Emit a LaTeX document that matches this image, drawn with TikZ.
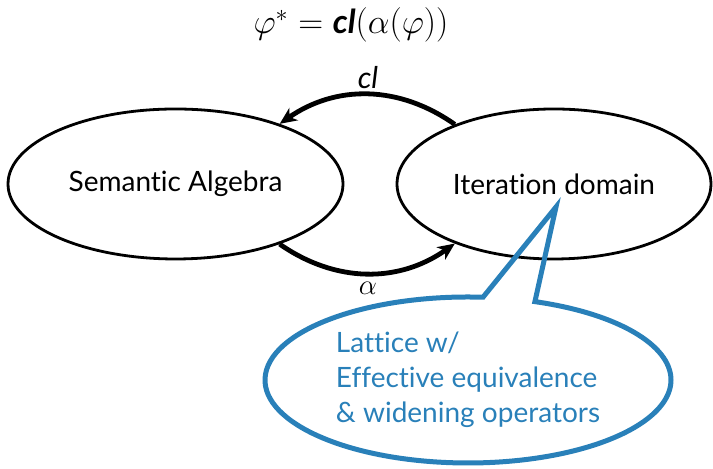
\documentclass[tikz,border=0pt]{standalone}
\usepackage{fontspec}
\setmainfont[Ligatures=NoCommon]{Lato}
\usepackage{tikz}
\usetikzlibrary{shapes,shapes.callouts,arrows.meta,positioning}
\usepackage{xcolor}
\definecolor{calloutblue}{RGB}{41,128,185}

\begin{document}
\begin{tikzpicture}[x=0.5pt, y=0.5pt,
    domainbox/.style={ellipse, draw, line width=1.4pt, inner sep=0pt, font=\fontsize{14}{17}\selectfont},
    mapping/.style={-{Stealth[length=8.5pt,width=7.5pt,inset=2.5pt]}, line width=2.4pt},
    note/.style={ellipse callout, draw=calloutblue, line width=2.5pt, text=calloutblue,
        align=left, inner sep=0pt, font=\fontsize{14}{17.5}\selectfont}]
                \useasboundingbox (0,0) rectangle (713,469);

                % Closure formula
                \node[font=\fontsize{16.5}{20}\selectfont] (formula) at (351,444)
                    {$\varphi^{*} = \textbf{\textit{cl}}(\alpha(\varphi))$};

                % The two domains
                \node[domainbox, minimum width=167.5pt, minimum height=75pt] (sa) at (175.5,285) {Semantic Algebra};
                \node[domainbox, minimum width=157pt, minimum height=75pt] (id) at (554,285) {Iteration domain};

                % Maps between them
                \draw[mapping] (id.149) to[bend right=35] (sa.30);
                \draw[mapping] (sa.-30) to[bend right=35] (id.211);
                \node[font=\fontsize{15}{18}\selectfont] (cl) at (368,391) {\textit{cl}};
                \node[font=\fontsize{15}{18}\selectfont] (alpha) at (368,181) {$\alpha$};

                % Remark on the iteration domain
                \node[note, minimum width=203pt, minimum height=83pt, callout absolute pointer={(556,262)}]
                    (remark) at (468,89)
                    {Lattice w/\\Effective equivalence\\\& widening operators};
            \end{tikzpicture}
\end{document}
